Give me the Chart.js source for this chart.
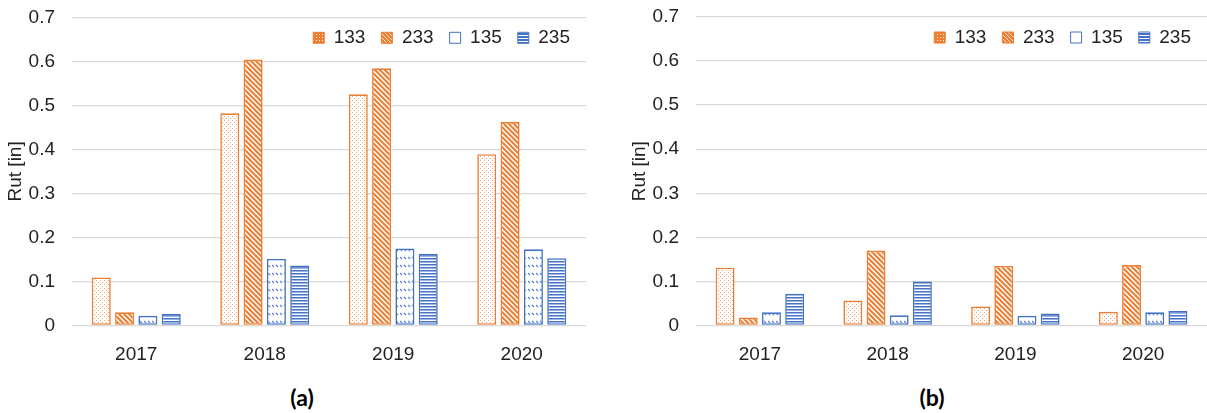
<!DOCTYPE html>
<html lang="en">
<head>
<meta charset="UTF-8">
<title>Rut by year</title>
<script src="https://cdn.jsdelivr.net/npm/chart.js"></script>
<style>
    html, body { margin: 0; padding: 0; background: #fff; }
    body { width: 1207px; height: 413px; position: relative; overflow: hidden; }
    .box { position: absolute; top: 0; height: 380px; }
    #boxA { left: 0; width: 600px; }
    #boxB { left: 600px; width: 607px; }
    .caption { position: absolute; top: 383px; width: 80px; text-align: center;
               font: bold 23px Lato, "Open Sans", sans-serif; color: #000; }
</style>
</head>
<body>
<div class="box" id="boxA"><canvas id="chartA" width="600" height="380"></canvas></div>
<div class="box" id="boxB"><canvas id="chartB" width="607" height="380"></canvas></div>
<div class="caption" style="left:262px">(a)</div>
<div class="caption" style="left:892px">(b)</div>

<script>
    // data
    const years = ['2017', '2018', '2019', '2020'];
    const seriesNames = ['133', '233', '135', '235'];
    const yTicks = [0, 0.1, 0.2, 0.3, 0.4, 0.5, 0.6, 0.7];

    const a133 = [0.109, 0.482, 0.525, 0.389];
    const a233 = [0.030, 0.604, 0.584, 0.462];
    const a135 = [0.022, 0.151, 0.175, 0.173];
    const a235 = [0.026, 0.136, 0.163, 0.153];

    const b133 = [0.131, 0.057, 0.043, 0.031];
    const b233 = [0.018, 0.170, 0.135, 0.137];
    const b135 = [0.030, 0.023, 0.022, 0.030];
    const b235 = [0.072, 0.100, 0.027, 0.033];

    const ORANGE = '#ED7D31';
    const BLUE = '#4472C4';
    const TEXT = '#222';
    const FONT = 'Liberation Sans, Arial, sans-serif';

    // small tiles for the Excel-like fill patterns
    function makePattern(w, h, draw) {
        const c = document.createElement('canvas');
        c.width = w; c.height = h;
        const g = c.getContext('2d');
        draw(g);
        return g.createPattern(c, 'repeat');
    }

    const barFills = [
        makePattern(4, 4, g => {            // dotted
            g.fillStyle = '#fff'; g.fillRect(0, 0, 4, 4);
            g.fillStyle = 'rgba(237,125,49,0.7)';
            g.fillRect(0, 0, 1, 1); g.fillRect(2, 2, 1, 1);
        }),
        makePattern(5, 5, g => {            // wide downward diagonal
            g.fillStyle = '#fff'; g.fillRect(0, 0, 5, 5);
            g.strokeStyle = ORANGE; g.lineWidth = 2;
            g.beginPath();
            g.moveTo(-1, -1); g.lineTo(6, 6);
            g.moveTo(-1, 4); g.lineTo(1, 6);
            g.moveTo(4, -1); g.lineTo(6, 1);
            g.stroke();
        }),
        makePattern(8, 8, g => {            // dashed diagonal
            g.fillStyle = '#fff'; g.fillRect(0, 0, 8, 8);
            g.strokeStyle = 'rgba(68,114,196,0.9)'; g.lineWidth = 1.2;
            g.beginPath();
            g.moveTo(0, 1); g.lineTo(2, 3);
            g.moveTo(4, 1); g.lineTo(6, 3);
            g.stroke();
        }),
        makePattern(3, 3, g => {            // narrow horizontal
            g.fillStyle = BLUE; g.fillRect(0, 0, 3, 1);
            g.fillStyle = '#9DB5E0'; g.fillRect(0, 1, 3, 1);
            g.fillStyle = '#fff'; g.fillRect(0, 2, 3, 1);
        })
    ];

    const legendFills = [
        makePattern(3, 3, g => {
            g.fillStyle = ORANGE; g.fillRect(0, 0, 3, 3);
            g.fillStyle = '#fff'; g.fillRect(1, 1, 1, 1);
        }),
        makePattern(4, 4, g => {
            g.fillStyle = ORANGE; g.fillRect(0, 0, 4, 4);
            g.strokeStyle = '#fde4d3'; g.lineWidth = 1;
            g.beginPath(); g.moveTo(0, 0); g.lineTo(4, 4); g.stroke();
        }),
        '#fff',
        makePattern(3, 3, g => {
            g.fillStyle = BLUE; g.fillRect(0, 0, 3, 3);
            g.fillStyle = '#fff'; g.fillRect(0, 2, 3, 1);
        })
    ];
    const borders = [ORANGE, ORANGE, BLUE, BLUE];

    // legend lives inside the plot, in one row at the top right
    const legendInPlot = {
        id: 'legendInPlot',
        beforeUpdate(chart) {
            if (chart.legend) chart.legend.isHorizontal = () => true;
        },
        afterLayout(chart) {
            const lg = chart.legend, area = chart.chartArea;
            lg.left = area.left;
            lg.right = area.right;
            lg.top = area.top - 5;
        }
    };

    function makeChart(id, values, padLeft, padRight, topPad) {
        const datasets = values.map((v, i) => ({
            label: seriesNames[i],
            data: v,
            backgroundColor: barFills[i],
            borderColor: borders[i],
            borderWidth: 1.6,
            borderSkipped: false,
            barPercentage: 0.815,
            categoryPercentage: 0.726
        }));

        return new Chart(document.getElementById(id), {
            type: 'bar',
            data: { labels: years, datasets: datasets },
            plugins: [legendInPlot],
            options: {
                responsive: false,
                animation: false,
                layout: { padding: { left: padLeft, right: padRight, top: topPad, bottom: 0 } },
                plugins: {
                    tooltip: { enabled: false },
                    legend: {
                        position: 'chartArea',
                        align: 'end',
                        labels: {
                            boxWidth: 11,
                            boxHeight: 11,
                            padding: 16,
                            color: TEXT,
                            font: { family: FONT, size: 19 },
                            generateLabels(chart) {
                                const items = Chart.defaults.plugins.legend.labels.generateLabels(chart);
                                items.forEach((it, i) => {
                                    it.fillStyle = legendFills[i];
                                    it.strokeStyle = borders[i];
                                    it.lineWidth = 1;
                                });
                                return items;
                            }
                        }
                    }
                },
                scales: {
                    x: {
                        grid: { display: false },
                        border: { display: false },
                        ticks: {
                            color: TEXT,
                            padding: 10,
                            font: { family: FONT, size: 19 }
                        },
                        afterFit(scale) {
                            scale.height = 380 - 325.5;
                            scale.paddingLeft = 0;
                            scale.paddingRight = 0;
                        }
                    },
                    y: {
                        min: 0,
                        max: 0.7,
                        afterBuildTicks(scale) {
                            scale.ticks = yTicks.map(v => ({ value: v }));
                        },
                        grid: { color: '#D9D9D9', lineWidth: 1.3, drawTicks: false },
                        border: { display: false },
                        ticks: {
                            color: TEXT,
                            padding: 17,
                            font: { family: FONT, size: 19 },
                            callback: v => String(Math.round(v * 10) / 10)
                        },
                        title: {
                            display: true,
                            text: 'Rut [in]',
                            color: TEXT,
                            padding: { top: 4, bottom: 0 },
                            font: { family: FONT, size: 19 }
                        },
                        afterFit(scale) {
                            scale.width = 72;
                            scale.paddingTop = 0;
                            scale.paddingBottom = 0;
                        }
                    }
                }
            }
        });
    }

    makeChart('chartA', [a133, a233, a135, a235], 0, 14, 17.3);
    makeChart('chartB', [b133, b233, b135, b235], 24, 0, 17);
</script>
</body>
</html>
